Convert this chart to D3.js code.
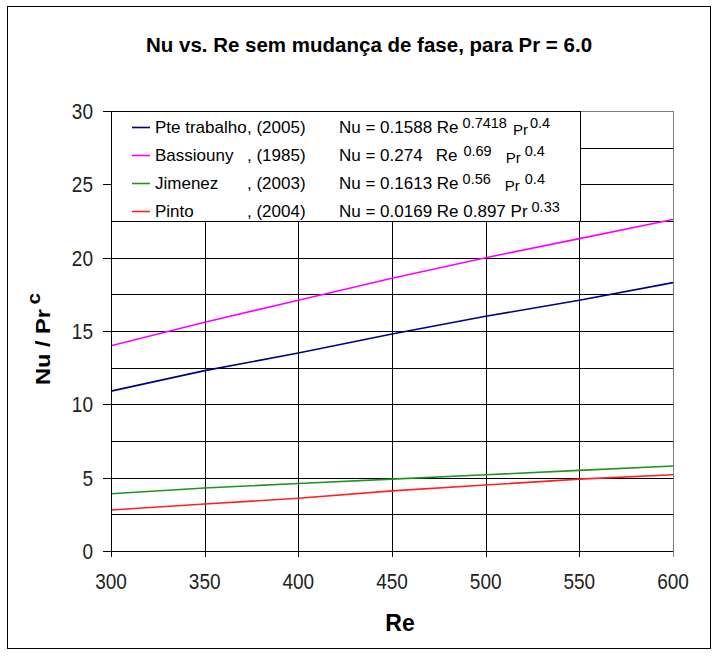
<!DOCTYPE html>
<html>
<head>
<meta charset="utf-8">
<script src="https://cdn.jsdelivr.net/npm/d3@7"></script>
<style>
  html, body { margin: 0; padding: 0; background: #fff; }
  svg { display: block; font-family: "Liberation Sans", Arial, sans-serif; }
</style>
</head>
<body>
<svg id="chart" width="717" height="656"></svg>
<script>
// Reynolds numbers sampled along the x axis
const reValues = [300, 350, 400, 450, 500, 550, 600];

// Nu / Pr^c for each correlation
const pteTrabalho = [10.9, 12.3, 13.5, 14.8, 16.0, 17.1, 18.3];
const bassiouny   = [14.0, 15.6, 17.1, 18.6, 20.0, 21.3, 22.6];
const jimenez     = [3.9, 4.3, 4.6, 4.9, 5.2, 5.5, 5.8];
const pinto       = [2.8, 3.2, 3.6, 4.1, 4.5, 4.9, 5.2];

const seriesNames = ["Pte trabalho", "Bassiouny", "Jimenez", "Pinto"];
const seriesYears = ["(2005)", "(1985)", "(2003)", "(2004)"];
const seriesColors = ["#000080", "#ff00ff", "#1e961e", "#ff2020"];

// Correlation formulas shown in the legend: [text, kind]
const formulas = [
  [["Nu = 0.1588 Re", "base"], ["0.7418", "sup"], ["Pr", "pr"], ["0.4", "sup"]],
  [["Nu = 0.274", "base"], ["Re", "base"], ["0.69", "sup"], ["Pr", "pr"], ["0.4", "sup"]],
  [["Nu = 0.1613 Re", "base"], ["0.56", "sup"], ["Pr", "pr"], ["0.4", "sup"]],
  [["Nu = 0.0169 Re 0.897 Pr", "base"], ["0.33", "sup"]]
];

const xTicks = [300, 350, 400, 450, 500, 550, 600];
const yTicks = [0, 5, 10, 15, 20, 25, 30];
const yGrid = [2.5, 5, 7.5, 10, 12.5, 15, 17.5, 20, 22.5, 25, 27.5];

const titleText = "Nu vs. Re sem mudança de fase, para Pr = 6.0";

const series = [pteTrabalho, bassiouny, jimenez, pinto];

const svg = d3.select("#chart");
const plot = { left: 111, right: 673, top: 111, bottom: 551 };

const x = d3.scaleLinear().domain([300, 600]).range([plot.left, plot.right]);
const y = d3.scaleLinear().domain([0, 30]).range([plot.bottom, plot.top]);

// outer chart frame
svg.append("rect")
  .attr("x", 7.5).attr("y", 6.5).attr("width", 703).attr("height", 642)
  .attr("fill", "#fff").attr("stroke", "#000").attr("stroke-width", 1);

// title
svg.append("text")
  .attr("x", 369).attr("y", 52)
  .attr("text-anchor", "middle")
  .attr("font-weight", "bold").attr("font-size", 20.5)
  .text(titleText);

// gridlines
const grid = svg.append("g").attr("shape-rendering", "crispEdges");
grid.selectAll("line.h").data(yGrid).join("line")
  .attr("class", "h")
  .attr("x1", plot.left).attr("x2", plot.right)
  .attr("y1", d => Math.round(y(d)) + 0.5).attr("y2", d => Math.round(y(d)) + 0.5)
  .attr("stroke", "#000").attr("stroke-width", 1.3);
grid.selectAll("line.v").data(xTicks.slice(1, -1)).join("line")
  .attr("class", "v")
  .attr("x1", d => Math.round(x(d)) + 0.5).attr("x2", d => Math.round(x(d)) + 0.5)
  .attr("y1", plot.top).attr("y2", plot.bottom)
  .attr("stroke", "#000").attr("stroke-width", 1.3);

// plot area border (top / right in grey)
svg.append("path")
  .attr("d", `M${plot.left},${plot.top + 0.5}H${plot.right + 0.5}V${plot.bottom}`)
  .attr("fill", "none").attr("stroke", "#808080").attr("stroke-width", 1.2)
  .attr("shape-rendering", "crispEdges");

// series lines
const line = d3.line().x((d, i) => x(reValues[i])).y(d => y(d));
svg.append("g").selectAll("path").data(series).join("path")
  .attr("d", d => line(d))
  .attr("fill", "none")
  .attr("stroke", (d, i) => seriesColors[i])
  .attr("stroke-width", 1.6);

// legend box
const legendBox = { x: 111, y: 111, w: 469, h: 110 };
svg.append("rect")
  .attr("x", legendBox.x + 0.5).attr("y", legendBox.y + 0.5)
  .attr("width", legendBox.w).attr("height", legendBox.h)
  .attr("fill", "#fff").attr("stroke", "#000").attr("stroke-width", 1.2)
  .attr("shape-rendering", "crispEdges");

const rowBaselines = [133, 161, 189, 217];
const legend = svg.append("g").attr("font-size", 17).attr("fill", "#000");
seriesNames.forEach((name, i) => {
  const b = rowBaselines[i];
  legend.append("line")
    .attr("x1", 132).attr("x2", 150)
    .attr("y1", b - 5.5).attr("y2", b - 5.5)
    .attr("stroke", seriesColors[i]).attr("stroke-width", 1.6);
  legend.append("text").attr("x", 155).attr("y", b).text(name);
  legend.append("text").attr("x", 247).attr("y", b).text(", " + seriesYears[i]);
});

// formula pieces, laid out left to right
const pieceStyle = {
  base: { size: 17, dy: 0 },
  sup:  { size: 14.5, dy: -5 },
  pr:   { size: 15, dy: 2 }
};
const rowGaps = [
  [0, 4, 6, 2],
  [0, 13, 6, 14, 4],
  [0, 4, 14, 5],
  [0, 4]
];
formulas.forEach((pieces, i) => {
  const b = rowBaselines[i];
  let cx = 339;
  pieces.forEach(([t, kind], j) => {
    const st = pieceStyle[kind];
    cx += rowGaps[i][j];
    const el = legend.append("text")
      .attr("x", cx).attr("y", b + st.dy)
      .attr("font-size", st.size)
      .text(t);
    cx += el.node().getComputedTextLength();
  });
});

// axes lines
const axes = svg.append("g").attr("shape-rendering", "crispEdges");
axes.append("line")
  .attr("x1", plot.left + 0.5).attr("x2", plot.left + 0.5)
  .attr("y1", plot.top).attr("y2", plot.bottom + 6)
  .attr("stroke", "#000").attr("stroke-width", 1.3);
axes.append("line")
  .attr("x1", plot.left - 8).attr("x2", plot.right + 1)
  .attr("y1", plot.bottom + 0.5).attr("y2", plot.bottom + 0.5)
  .attr("stroke", "#000").attr("stroke-width", 1.3);

// ticks
axes.selectAll("line.yt").data(yTicks).join("line")
  .attr("class", "yt")
  .attr("x1", plot.left - 8).attr("x2", plot.left)
  .attr("y1", d => Math.round(y(d)) + 0.5).attr("y2", d => Math.round(y(d)) + 0.5)
  .attr("stroke", "#000").attr("stroke-width", 1.3);
axes.selectAll("line.xt").data(xTicks).join("line")
  .attr("class", "xt")
  .attr("x1", d => Math.round(x(d)) + 0.5).attr("x2", d => Math.round(x(d)) + 0.5)
  .attr("y1", plot.bottom).attr("y2", plot.bottom + 6)
  .attr("stroke", d => d === 600 ? "#808080" : "#000").attr("stroke-width", 1.3);

// tick labels
const tickFont = 19, stretch = 1.15;
svg.append("g").selectAll("text").data(yTicks).join("text")
  .attr("transform", d => `translate(93,${y(d)}) scale(1,${stretch})`)
  .attr("text-anchor", "end").attr("dy", "0.36em")
  .attr("font-size", tickFont).attr("fill", "#222")
  .text(d => d);
svg.append("g").selectAll("text").data(xTicks).join("text")
  .attr("transform", d => `translate(${x(d)},581) scale(1,${stretch})`)
  .attr("text-anchor", "middle").attr("dy", "0.36em")
  .attr("font-size", tickFont).attr("fill", "#222")
  .text(d => d);

// axis titles
svg.append("text")
  .attr("x", 400).attr("y", 631)
  .attr("text-anchor", "middle")
  .attr("font-weight", "bold").attr("font-size", 23)
  .text("Re");

const yTitle = svg.append("text")
  .attr("transform", "translate(50,385) rotate(-90) scale(1.15,1)")
  .attr("font-weight", "bold").attr("font-size", 20.5);
yTitle.append("tspan").text("Nu / Pr");
yTitle.append("tspan").attr("dx", 4).attr("dy", -10).attr("font-size", 18).text("c");
</script>
</body>
</html>
